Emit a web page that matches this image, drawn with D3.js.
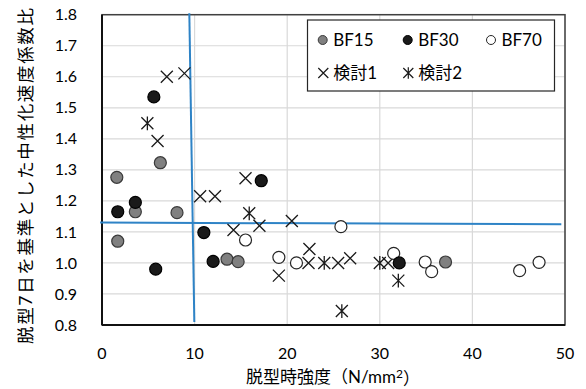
<!DOCTYPE html>
<html lang="ja">
  <head>
    <meta charset="utf-8" />
    <script src="https://d3js.org/d3.v7.min.js"></script>
    <style type="text/css">
      body {
        margin: 0;
        background-color: white;
      }
      svg text {
        font-family: Lato, "Noto Sans CJK JP", sans-serif;
        fill: #000;
      }
    </style>
  </head>

  <body>
    <svg id="chart" width="586" height="389"></svg>

    <script>
      // series
      let bf15X = [1.6, 1.7, 3.6, 6.3, 8.1, 13.5, 14.7, 37.1];
      let bf15Y = [1.276, 1.07, 1.165, 1.323, 1.162, 1.012, 1.004, 1.003];

      let bf30X = [1.7, 3.6, 5.6, 5.8, 11.0, 12.0, 17.2, 32.1];
      let bf30Y = [1.165, 1.195, 1.535, 0.98, 1.098, 1.005, 1.265, 1.0];

      let bf70X = [15.5, 19.1, 21.0, 25.8, 31.5, 34.9, 35.6, 45.1, 47.2];
      let bf70Y = [1.074, 1.018, 1.0, 1.117, 1.031, 1.003, 0.972, 0.975, 1.002];

      let kentou1X = [7.0, 8.9, 6.0, 10.6, 12.2, 15.5, 14.2, 17.0, 20.5, 19.1, 22.4, 22.3, 25.5, 26.8, 30.9];
      let kentou1Y = [1.6, 1.611, 1.393, 1.215, 1.215, 1.273, 1.106, 1.12, 1.135, 0.959, 1.045, 1.0, 1.0, 1.015, 1.0];

      let kentou2X = [4.9, 15.9, 24.0, 25.9, 30.0, 32.0];
      let kentou2Y = [1.45, 1.16, 1.0, 0.845, 1.0, 0.943];

      // reference lines
      let vLineX = [9.43, 9.97];
      let vLineY = [1.805, 0.81];
      let hLineX = [-0.2, 49.6];
      let hLineY = [1.13, 1.125];

      let xTicks = [0, 10, 20, 30, 40, 50];
      let yTicks = [0.8, 0.9, 1.0, 1.1, 1.2, 1.3, 1.4, 1.5, 1.6, 1.7, 1.8];

      let svg = d3.select("#chart");
      let pLeft = 102, pRight = 565, pTop = 14.7, pBottom = 325;

      let x = d3.scaleLinear([0, 50], [pLeft, pRight]);
      let y = d3.scaleLinear([0.8, 1.8], [pBottom, pTop]);

      // grid
      let grid = svg.append("g");
      grid.selectAll("line.gy")
        .data(yTicks)
        .enter()
        .append("line")
        .attr("x1", pLeft).attr("x2", pRight)
        .attr("y1", d => y(d)).attr("y2", d => y(d))
        .attr("stroke", "#d9d9d9").attr("stroke-width", 1.2);
      grid.selectAll("line.gx")
        .data(xTicks)
        .enter()
        .append("line")
        .attr("x1", d => x(d)).attr("x2", d => x(d))
        .attr("y1", pTop).attr("y2", pBottom)
        .attr("stroke", "#d9d9d9").attr("stroke-width", 1.2);

      // plot frame
      svg.append("rect")
        .attr("x", pLeft).attr("y", pTop)
        .attr("width", pRight - pLeft).attr("height", pBottom - pTop)
        .attr("fill", "none").attr("stroke", "#404040").attr("stroke-width", 1.5);
      svg.append("line")
        .attr("x1", pLeft).attr("x2", pLeft).attr("y1", pTop).attr("y2", pBottom)
        .attr("stroke", "#111").attr("stroke-width", 2);
      svg.append("line")
        .attr("x1", pLeft).attr("x2", pRight).attr("y1", pBottom).attr("y2", pBottom)
        .attr("stroke", "#111").attr("stroke-width", 2);

      // tick labels
      svg.append("g")
        .selectAll("text")
        .data(yTicks)
        .enter()
        .append("text")
        .attr("x", 77).attr("y", d => y(d))
        .attr("dy", "0.35em")
        .attr("text-anchor", "end")
        .style("font-size", "16px")
        .text(d => d3.format(".1f")(d));
      svg.append("g")
        .selectAll("text")
        .data(xTicks)
        .enter()
        .append("text")
        .attr("x", d => x(d)).attr("y", 353)
        .attr("dy", "0.35em")
        .attr("text-anchor", "middle")
        .style("font-size", "16px")
        .text(d => d);

      // axis titles
      let xt = svg.append("text")
        .attr("x", 333).attr("y", 377)
        .attr("dy", "0.35em")
        .attr("text-anchor", "middle")
        .style("font-size", "17px")
        .text("脱型時強度（N/mm");
      xt.append("tspan").attr("dy", "-0.4em").style("font-size", "12px").text("2");
      xt.append("tspan").attr("dy", "0.4em").text("）");

      svg.append("text")
        .attr("transform", "translate(26,176) rotate(-90)")
        .attr("dy", "0.35em")
        .attr("text-anchor", "middle")
        .attr("textLength", 336)
        .attr("lengthAdjust", "spacing")
        .style("font-size", "17.5px")
        .text("脱型7日を基準とした中性化速度係数比");

      // reference lines
      let line = d3.line().x(d => x(d[0])).y(d => y(d[1]));
      svg.append("path")
        .attr("d", line(d3.zip(vLineX, vLineY)))
        .attr("stroke", "#2e83c6").attr("stroke-width", 2).attr("fill", "none");
      svg.append("path")
        .attr("d", line(d3.zip(hLineX, hLineY)))
        .attr("stroke", "#2e83c6").attr("stroke-width", 2).attr("fill", "none");

      // marker helpers
      function crossPath(s) {
        return "M" + -s + "," + -s + "L" + s + "," + s + "M" + -s + "," + s + "L" + s + "," + -s;
      }
      function starPath(s) {
        return crossPath(s) + "M0," + -s * 1.15 + "L0," + s * 1.15;
      }

      let marks = svg.append("g");

      function drawLines(xs, ys, d) {
        marks.append("g")
          .selectAll("path")
          .data(d3.zip(xs, ys))
          .enter()
          .append("path")
          .attr("transform", p => "translate(" + x(p[0]) + "," + y(p[1]) + ")")
          .attr("d", d)
          .attr("stroke", "#1a1a1a").attr("stroke-width", 1.3).attr("fill", "none");
      }
      function drawCircles(xs, ys, fill, stroke) {
        marks.append("g")
          .selectAll("circle")
          .data(d3.zip(xs, ys))
          .enter()
          .append("circle")
          .attr("cx", p => x(p[0])).attr("cy", p => y(p[1]))
          .attr("r", 6)
          .attr("fill", fill).attr("stroke", stroke).attr("stroke-width", 1.2);
      }

      drawLines(kentou1X, kentou1Y, crossPath(6));
      drawLines(kentou2X, kentou2Y, starPath(6));
      drawCircles(bf15X, bf15Y, "#808080", "#3a3a3a");
      drawCircles(bf70X, bf70Y, "#ffffff", "#262626");
      drawCircles(bf30X, bf30Y, "#1a1a1a", "#000000");

      // legend
      let lg = svg.append("g");
      lg.append("rect")
        .attr("x", 307.5).attr("y", 20)
        .attr("width", 247).attr("height", 71)
        .attr("fill", "white").attr("stroke", "#262626").attr("stroke-width", 1.2);

      let legCircles = [
        { name: "BF15", fill: "#808080", stroke: "#3a3a3a", mx: 322.7 },
        { name: "BF30", fill: "#1a1a1a", stroke: "#000", mx: 407.7 },
        { name: "BF70", fill: "#ffffff", stroke: "#262626", mx: 491 }
      ];
      legCircles.forEach(function (d) {
        lg.append("circle")
          .attr("cx", d.mx).attr("cy", 40).attr("r", 4.5)
          .attr("fill", d.fill).attr("stroke", d.stroke).attr("stroke-width", 1);
        lg.append("text")
          .attr("x", d.mx + 10.5).attr("y", 40).attr("dy", "0.35em")
          .style("font-size", "17px").text(d.name);
      });
      let legLines = [
        { name: "検討1", d: crossPath(5), mx: 323.3 },
        { name: "検討2", d: starPath(5), mx: 408.3 }
      ];
      legLines.forEach(function (d) {
        lg.append("path")
          .attr("transform", "translate(" + d.mx + ",73)")
          .attr("d", d.d)
          .attr("stroke", "#1a1a1a").attr("stroke-width", 1.2).attr("fill", "none");
        lg.append("text")
          .attr("x", d.mx + 10).attr("y", 73).attr("dy", "0.35em")
          .style("font-size", "17px").text(d.name);
      });
    </script>
  </body>
</html>
